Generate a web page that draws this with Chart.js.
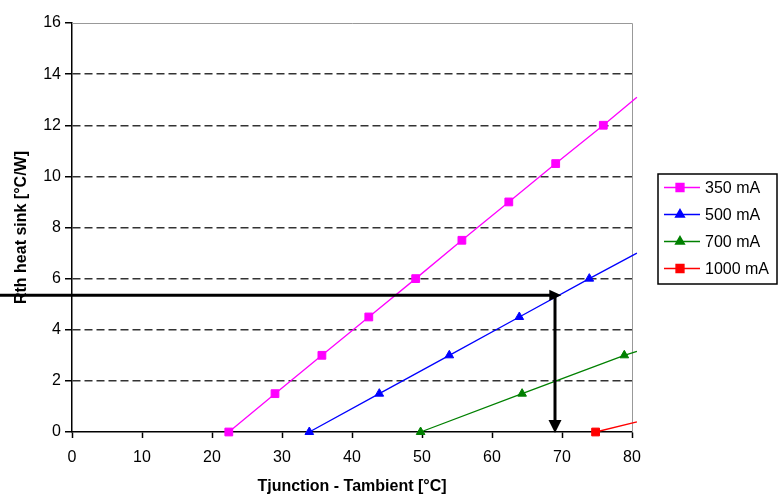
<!DOCTYPE html>
<html>
<head>
<meta charset="utf-8">
<script src="https://cdn.jsdelivr.net/npm/chart.js@4.4.1/dist/chart.umd.min.js"></script>
<style>
	html, body { margin: 0; padding: 0; background: #fff; }
	canvas { display: block; }
</style>
</head>
<body>
<canvas id="rth-chart" width="784" height="497"></canvas>
<script>
// Series (last point of each = where the line leaves the plot)
const seriesLabels = ['350 mA', '500 mA', '700 mA', '1000 mA'];

const x350 = [22.4, 29.0, 35.7, 42.4, 49.1, 55.7, 62.4, 69.1, 75.9, 80.7];
const y350 = [0, 1.5, 3, 4.5, 6, 7.5, 9, 10.5, 12, 13.1];

const x500 = [33.9, 43.9, 53.9, 63.9, 73.9, 80.7];
const y500 = [0, 1.5, 3, 4.5, 6, 7.0];

const x700 = [49.8, 64.3, 78.9, 80.7];
const y700 = [0, 1.5, 3, 3.15];

const x1000 = [74.8, 80.7];
const y1000 = [0, 0.4];

const xTicks = [0, 10, 20, 30, 40, 50, 60, 70, 80];
const yTicks = [0, 2, 4, 6, 8, 10, 12, 14, 16];

// reading example drawn with arrows
const readRth = 5.35;
const readDeltaT = 69.0;
const arrowTipDeltaT = 69.9;

const FONT = "'Liberation Sans', Arial, sans-serif";

function toPoints(xs, ys) {
	const pts = [];
	for (let i = 0; i < xs.length; i++)
		pts.push({ x: xs[i], y: ys[i] });
	return pts;
}

function makeDataset(label, xs, ys, color, style, radius) {
	return {
		label: label,
		data: toPoints(xs, ys),
		showLine: true,
		borderColor: color,
		backgroundColor: color,
		borderWidth: 1.3,
		pointStyle: style,
		pointBackgroundColor: color,
		pointBorderColor: color,
		pointBorderWidth: 1,
		pointRadius: ctx => ctx.dataIndex === xs.length - 1 ? 0 : radius,
		clip: false
	};
}

const datasets = [
	makeDataset(seriesLabels[0], x350, y350, '#ff00ff', 'rect', 5.5),
	makeDataset(seriesLabels[1], x500, y500, '#0000ff', 'triangle', 5),
	makeDataset(seriesLabels[2], x700, y700, '#008000', 'triangle', 5),
	makeDataset(seriesLabels[3], x1000, y1000, '#ff0000', 'rect', 5.5)
];

const plotFrame = {
	id: 'plotFrame',
	beforeDatasetsDraw(chart) {
		const { ctx, chartArea: a } = chart;
		ctx.save();
		ctx.strokeStyle = '#999';
		ctx.lineWidth = 1;
		ctx.beginPath();
		ctx.moveTo(a.left, a.top + 0.5);
		ctx.lineTo(a.right + 0.5, a.top + 0.5);
		ctx.lineTo(a.right + 0.5, a.bottom);
		ctx.stroke();
		ctx.restore();
	}
};

function arrowHead(ctx, x, y, dir, len, half) {
	ctx.beginPath();
	if (dir === 'right') {
		ctx.moveTo(x, y);
		ctx.lineTo(x - len, y - half);
		ctx.lineTo(x - len, y + half);
	} else {
		ctx.moveTo(x, y);
		ctx.lineTo(x - half, y - len);
		ctx.lineTo(x + half, y - len);
	}
	ctx.closePath();
	ctx.fill();
}

const readingArrows = {
	id: 'readingArrows',
	afterDraw(chart) {
		const { ctx, scales } = chart;
		const yPx = scales.y.getPixelForValue(readRth);
		const xPx = scales.x.getPixelForValue(readDeltaT);
		const tipPx = scales.x.getPixelForValue(arrowTipDeltaT);
		const y0 = scales.y.getPixelForValue(0);
		ctx.save();
		ctx.strokeStyle = '#000';
		ctx.fillStyle = '#000';
		ctx.lineWidth = 3;
		ctx.beginPath();
		ctx.moveTo(0, yPx);
		ctx.lineTo(tipPx - 8, yPx);
		ctx.stroke();
		arrowHead(ctx, tipPx, yPx, 'right', 12, 5.5);
		ctx.beginPath();
		ctx.moveTo(xPx, yPx - 1.5);
		ctx.lineTo(xPx, y0 - 8);
		ctx.stroke();
		arrowHead(ctx, xPx, y0 + 1, 'down', 13, 6.5);
		ctx.restore();
	}
};

const boxLegend = {
	id: 'boxLegend',
	afterDraw(chart) {
		const ctx = chart.ctx;
		const left = 658, top = 174, width = 119, height = 110;
		ctx.save();
		ctx.strokeStyle = '#000';
		ctx.lineWidth = 1.5;
		ctx.strokeRect(left, top, width, height);
		ctx.font = '16px ' + FONT;
		ctx.textBaseline = 'middle';
		ctx.textAlign = 'left';
		chart.data.datasets.forEach((ds, i) => {
			const y = top + 13.5 + i * 27;
			ctx.strokeStyle = ds.borderColor;
			ctx.lineWidth = 1.5;
			ctx.beginPath();
			ctx.moveTo(left + 6, y);
			ctx.lineTo(left + 42, y);
			ctx.stroke();
			ctx.fillStyle = ds.borderColor;
			Chart.helpers.drawPoint(ctx, {
				pointStyle: ds.pointStyle,
				radius: ds.pointStyle === 'rect' ? 5.5 : 5,
				borderWidth: 1,
				rotation: 0
			}, left + 22, y);
			ctx.fillStyle = '#000';
			ctx.fillText(ds.label, left + 47, y + 1);
		});
		ctx.restore();
	}
};

var rthChart = new Chart(document.getElementById('rth-chart'), {
	type: 'scatter',
	data: { datasets: datasets },
	plugins: [plotFrame, readingArrows, boxLegend],
	options: {
		responsive: false,
		animation: false,
		devicePixelRatio: 1,
		layout: { padding: { left: 0, top: 23, right: 152, bottom: 0 } },
		plugins: {
			legend: { display: false },
			tooltip: { enabled: false }
		},
		scales: {
			x: {
				type: 'linear',
				min: xTicks[0],
				max: xTicks[xTicks.length - 1],
				afterBuildTicks: s => { s.ticks = xTicks.map(v => ({ value: v })); },
				afterFit: s => { s.height = 65; },
				ticks: { color: '#000', font: { family: FONT, size: 16 }, padding: 10 },
				grid: {
					drawOnChartArea: false,
					tickLength: 6,
					tickColor: '#000',
					tickWidth: 1.5
				},
				border: { color: '#000', width: 1.5 },
				title: {
					display: true,
					text: 'Tjunction - Tambient [°C]',
					color: '#000',
					font: { family: FONT, size: 16, weight: 'bold' },
					padding: { top: 0, bottom: 1 }
				}
			},
			y: {
				type: 'linear',
				min: yTicks[0],
				max: yTicks[yTicks.length - 1],
				afterBuildTicks: s => { s.ticks = yTicks.map(v => ({ value: v })); },
				afterFit: s => { s.width = 72; },
				ticks: { color: '#000', font: { family: FONT, size: 16 }, padding: 4 },
				grid: {
					color: ctx => (ctx.tick && ctx.tick.value > yTicks[0] && ctx.tick.value < yTicks[yTicks.length - 1]) ? '#333' : 'rgba(0,0,0,0)',
					lineWidth: 1.5,
					tickLength: 7,
					tickColor: '#000',
					tickWidth: 1.5
				},
				border: { color: '#000', width: 1.5, dash: [8, 4] },
				title: {
					display: true,
					text: 'Rth heat sink [°C/W]',
					color: '#000',
					font: { family: FONT, size: 16, weight: 'bold' },
					padding: { top: 12, bottom: 0 }
				}
			}
		}
	}
});
</script>
</body>
</html>
